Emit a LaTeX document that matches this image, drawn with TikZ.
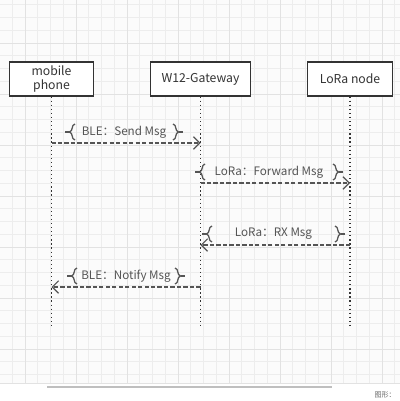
\documentclass[tikz,border=0pt]{standalone}
\usepackage{fontspec}
\setmainfont{Noto Sans CJK SC}
\usetikzlibrary{arrows.meta,decorations.pathreplacing}

\definecolor{gridminor}{HTML}{EDEDED}
\definecolor{gridmajor}{HTML}{E2E2E2}
\definecolor{ink}{HTML}{333333}
\definecolor{msgink}{HTML}{555555}

\tikzset{
  actor/.style={draw=ink, line width=0.8pt, fill=white, text=ink, align=center,
    minimum height=0.85cm, inner sep=0pt, font=\fontsize{8.7}{10.5}\selectfont},
  lifeline/.style={draw=ink, line width=0.9pt, dotted},
  msg/.style={draw=msgink, line width=0.8pt, dash pattern=on 3pt off 1.6pt,
    -{Straight Barb[length=4.5pt,width=9pt]}},
  msglabel/.style={text=msgink, inner sep=0pt, font=\fontsize{8.3}{10}\selectfont},
  bracket/.style={draw=msgink, line width=0.9pt, decorate,
    decoration={brace, amplitude=4pt}},
}

\begin{document}
\begin{tikzpicture}[x=0.025cm, y=-0.025cm]
  \useasboundingbox (0,0) rectangle (400,401);
  % canvas with grid
  \fill[white!97!gray] (0,0) rectangle (400,383);
  \foreach \k in {0,...,31} {
    \draw[gridminor, line width=0.5pt] (25+12.75*\k-12.75,0) -- (25+12.75*\k-12.75,383);
  }
  \foreach \k in {-4,...,26} {
    \draw[gridminor, line width=0.5pt] (0,43+12.75*\k) -- (400,43+12.75*\k);
  }
  \foreach \k in {0,...,7} {
    \draw[gridmajor, line width=0.7pt] (25+51*\k,0) -- (25+51*\k,383);
  }
  \foreach \k in {-1,...,6} {
    \draw[gridmajor, line width=0.7pt] (0,43+51*\k) -- (400,43+51*\k);
  }
  % status bar
  \fill[white] (0,383) rectangle (400,401);
  \draw[gridmajor, line width=0.6pt] (0,383) -- (400,383);
  \draw[black!25, line width=2pt] (47,387) -- (332,387);
  \node[anchor=east, text=black!60, inner sep=0pt, font=\fontsize{5}{6}\selectfont] (status) at (396,395) {图形：};

  % participants
  \node[actor, minimum width=2.08cm] (phone) at (51.5,79) {mobile\\phone};
  \node[actor, minimum width=2.5cm] (gw) at (200.5,79) {W12-Gateway};
  \node[actor, minimum width=2.12cm] (lora) at (350,79) {LoRa node};
  \foreach \n in {phone,gw,lora} {
    \coordinate (\n-end) at (\n |- 0,327);
    \draw[lifeline] (\n.south) -- (\n-end);
  }

  % messages
  \foreach \i/\from/\to/\y/\xa/\xb/\txt in {
      1/phone/gw/143/75/173/{BLE：Send Msg},
      2/gw/lora/183/205/333/{LoRa：Forward Msg},
      3/lora/gw/245/212/335/{LoRa：RX Msg},
      4/gw/phone/287/77/175/{BLE：Notify Msg}} {
    \draw[msg] (\from |- 0,\y) -- (\to |- 0,\y);
    \node[msglabel] (l\i) at ({(\xa+\xb)/2},\y-11) {\txt};
    \draw[bracket] (\xa,\y-3) -- (\xa,\y-19);
    \draw[bracket] (\xb,\y-19) -- (\xb,\y-3);
    \draw[msgink, line width=0.9pt] (\xa-5.5,\y-11) -- (\xa-10,\y-11);
    \draw[msgink, line width=0.9pt] (\xb+5.5,\y-11) -- (\xb+10,\y-11);
  }
\end{tikzpicture}
\end{document}
